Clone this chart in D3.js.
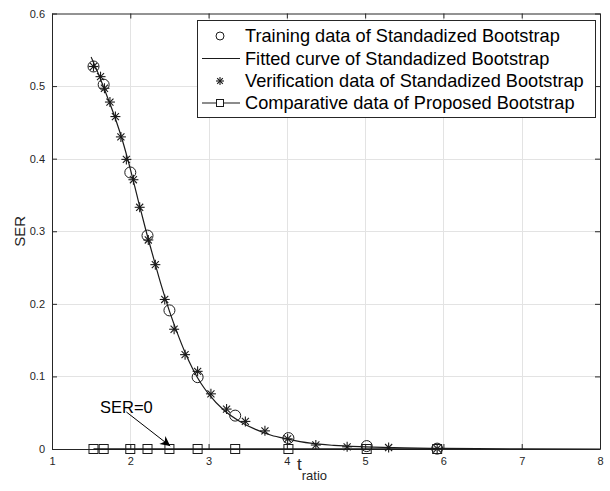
<!DOCTYPE html>
<html>
<head>
<meta charset="utf-8">
<script src="https://cdn.jsdelivr.net/npm/d3@7"></script>
<style>
  body { margin: 0; background: #fff; }
  svg { font-family: "Liberation Sans", Arial, Helvetica, sans-serif; }
</style>
</head>
<body>
<svg id="chart" width="610" height="491"></svg>
<script>
  // data
  const trainX = [1.53, 1.66, 2.0, 2.22, 2.5, 2.86, 3.34, 4.02, 5.02, 5.92]
  const trainY = [0.527, 0.502, 0.381, 0.294, 0.191, 0.099, 0.046, 0.015, 0.004, 0.0005]

  const fitX = [1.5, 1.6, 1.7, 1.8, 1.9, 2.0, 2.1, 2.2, 2.3, 2.4, 2.5, 2.6, 2.7, 2.8, 2.9, 3.0,
    3.2, 3.4, 3.6, 3.8, 4.0, 4.3, 4.6, 5.0, 5.5, 6.0, 7.0, 8.0]
  const fitY = [0.540, 0.515, 0.487, 0.458, 0.425, 0.386, 0.343, 0.301, 0.262, 0.224, 0.190, 0.160,
    0.133, 0.110, 0.091, 0.076, 0.053, 0.038, 0.027, 0.019, 0.014, 0.008, 0.005, 0.003, 0.0015,
    0.0008, 0.0002, 0.0]

  const verifX = [1.53, 1.62, 1.67, 1.74, 1.81, 1.88, 1.95, 2.04, 2.12, 2.23, 2.32, 2.44, 2.56,
    2.70, 2.86, 3.03, 3.23, 3.47, 3.72, 4.01, 4.37, 4.77, 5.30, 5.92]
  const verifY = [0.527, 0.513, 0.497, 0.478, 0.458, 0.430, 0.399, 0.371, 0.333, 0.288, 0.254,
    0.206, 0.165, 0.130, 0.107, 0.076, 0.055, 0.038, 0.025, 0.014, 0.0055, 0.003, 0.002, 0.0005]

  const propX = [1.53, 1.66, 2.0, 2.22, 2.5, 2.86, 3.34, 4.02, 5.02, 5.92]
  const propY = [0, 0, 0, 0, 0, 0, 0, 0, 0, 0]

  const xTicks = [1, 2, 3, 4, 5, 6, 7, 8]
  const yTicks = [0, 0.1, 0.2, 0.3, 0.4, 0.5, 0.6]

  const legendLabels = [
    'Training data of Standadized Bootstrap',
    'Fitted curve of Standadized Bootstrap',
    'Verification data of Standadized Bootstrap',
    'Comparative data of Proposed Bootstrap'
  ]

  // note: arrow from text to the zero line
  const noteText = 'SER=0'
  const noteFrom = [1.95, 0.051]
  const noteTo = [2.51, 0.004]

  // layout
  const M = { left: 52, top: 13.5, right: 600, bottom: 449 }
  const AX = '#262626'

  const svg = d3.select('#chart')
  const x = d3.scaleLinear().domain([1, 8]).range([M.left, M.right])
  const y = d3.scaleLinear().domain([0, 0.6]).range([M.bottom, M.top])

  // grid
  const grid = svg.append('g').attr('stroke', '#e3e3e3').attr('stroke-width', 1)
  grid.selectAll('line.gx').data(xTicks.slice(1, -1)).enter().append('line')
    .attr('x1', d => Math.round(x(d)) + 0.5).attr('x2', d => Math.round(x(d)) + 0.5)
    .attr('y1', M.top).attr('y2', M.bottom)
  grid.selectAll('line.gy').data(yTicks.slice(1, -1)).enter().append('line')
    .attr('y1', d => Math.round(y(d)) + 0.5).attr('y2', d => Math.round(y(d)) + 0.5)
    .attr('x1', M.left).attr('x2', M.right)

  // axes (MATLAB style box with inward ticks)
  const xAxis = d3.axisBottom(x).tickValues(xTicks).tickFormat(d3.format('d')).tickSizeInner(-5).tickSizeOuter(0).tickPadding(8)
  const yAxis = d3.axisLeft(y).tickValues(yTicks).tickFormat(d => d === 0 ? '0' : d3.format('.1f')(d)).tickSizeInner(-5).tickSizeOuter(0).tickPadding(7)
  const xTop = d3.axisTop(x).tickValues(xTicks).tickFormat('').tickSizeInner(-5).tickSizeOuter(0)
  const yRight = d3.axisRight(y).tickValues(yTicks).tickFormat('').tickSizeInner(-5).tickSizeOuter(0)

  function styleAxis(g) {
    g.selectAll('path, line').attr('stroke', AX)
    g.selectAll('text').attr('fill', AX).style('font-size', '11px')
      .style('font-family', '"Liberation Sans", Arial, sans-serif')
  }
  svg.append('g').attr('transform', `translate(0,${M.bottom})`).call(xAxis).call(styleAxis)
  svg.append('g').attr('transform', `translate(${M.left},0)`).call(yAxis).call(styleAxis)
  svg.append('g').attr('transform', `translate(0,${M.top})`).call(xTop).call(styleAxis)
  svg.append('g').attr('transform', `translate(${M.right},0)`).call(yRight).call(styleAxis)

  // axis labels
  svg.append('text')
    .attr('transform', `translate(25,${(M.top + M.bottom) / 2}) rotate(-90)`)
    .attr('text-anchor', 'middle').attr('fill', AX).style('font-size', '15px')
    .text('SER')
  const xl = svg.append('text').attr('x', 297).attr('y', 470).attr('fill', AX).style('font-size', '17px')
  xl.append('tspan').text('t')
  xl.append('tspan').attr('dy', 10).style('font-size', '13px').text('ratio')

  // marker helpers
  const DARK = '#1a1a1a'
  function star(g, cx, cy, r) {
    const s = g.append('g').attr('stroke', DARK).attr('stroke-width', 1.1)
    const k = r * Math.SQRT1_2
    s.append('line').attr('x1', cx - r).attr('x2', cx + r).attr('y1', cy).attr('y2', cy)
    s.append('line').attr('x1', cx).attr('x2', cx).attr('y1', cy - r).attr('y2', cy + r)
    s.append('line').attr('x1', cx - k).attr('x2', cx + k).attr('y1', cy - k).attr('y2', cy + k)
    s.append('line').attr('x1', cx - k).attr('x2', cx + k).attr('y1', cy + k).attr('y2', cy - k)
  }

  const plot = svg.append('g')

  // proposed bootstrap line + squares
  const propData = propX.map((d, i) => [d, propY[i]])
  plot.append('path').datum(propData)
    .attr('d', d3.line().x(d => x(d[0])).y(d => y(d[1])))
    .attr('fill', 'none').attr('stroke', DARK).attr('stroke-width', 1.3)
  plot.selectAll('rect.sq').data(propData).enter().append('rect')
    .attr('x', d => x(d[0]) - 4.5).attr('y', d => y(d[1]) - 4.5)
    .attr('width', 9).attr('height', 9)
    .attr('fill', 'none').attr('stroke', DARK).attr('stroke-width', 1)

  // fitted curve
  const fitData = fitX.map((d, i) => [d, fitY[i]])
  plot.append('path').datum(fitData)
    .attr('d', d3.line().curve(d3.curveMonotoneX).x(d => x(d[0])).y(d => y(d[1])))
    .attr('fill', 'none').attr('stroke', DARK).attr('stroke-width', 1.2)

  // training circles
  plot.selectAll('circle.tr').data(trainX.map((d, i) => [d, trainY[i]])).enter().append('circle')
    .attr('cx', d => x(d[0])).attr('cy', d => y(d[1])).attr('r', 5.5)
    .attr('fill', 'none').attr('stroke', DARK).attr('stroke-width', 1)

  // verification stars
  verifX.forEach((d, i) => star(plot, x(d), y(verifY[i]), 5))

  // annotation
  svg.append('defs').append('marker')
    .attr('id', 'ah').attr('viewBox', '0 0 10 10').attr('refX', 10).attr('refY', 5)
    .attr('markerWidth', 15).attr('markerHeight', 10).attr('markerUnits', 'userSpaceOnUse')
    .attr('orient', 'auto')
    .append('path').attr('d', 'M0,0 L10,5 L0,10 L3,5 Z').attr('fill', '#000')
  svg.append('line')
    .attr('x1', x(noteFrom[0])).attr('y1', y(noteFrom[1]))
    .attr('x2', x(noteTo[0])).attr('y2', y(noteTo[1]))
    .attr('stroke', '#000').attr('stroke-width', 1).attr('marker-end', 'url(#ah)')
  svg.append('text').attr('x', 100).attr('y', 413).attr('fill', '#000')
    .style('font-size', '16.5px').text(noteText)

  // legend
  const lg = svg.append('g')
  lg.append('rect').attr('x', 197.5).attr('y', 20.5).attr('width', 398).attr('height', 97)
    .attr('fill', '#fff').attr('stroke', AX).attr('stroke-width', 1)
  const rowY = [36, 58.5, 81, 103]
  legendLabels.forEach((t, i) => {
    lg.append('text').attr('x', 245).attr('y', rowY[i]).attr('dy', '0.35em')
      .attr('fill', '#000').style('font-size', '18.2px').text(t)
  })
  const sx = 220
  lg.append('circle').attr('cx', sx).attr('cy', rowY[0]).attr('r', 4)
    .attr('fill', 'none').attr('stroke', DARK)
  lg.append('line').attr('x1', 202).attr('x2', 240).attr('y1', rowY[1]).attr('y2', rowY[1])
    .attr('stroke', DARK).attr('stroke-width', 1.1)
  star(lg, sx, rowY[2], 4)
  lg.append('line').attr('x1', 202).attr('x2', 240).attr('y1', rowY[3]).attr('y2', rowY[3])
    .attr('stroke', DARK).attr('stroke-width', 1.1)
  lg.append('rect').attr('x', sx - 3.5).attr('y', rowY[3] - 3.5).attr('width', 7).attr('height', 7)
    .attr('fill', '#fff').attr('stroke', DARK)
</script>
</body>
</html>
